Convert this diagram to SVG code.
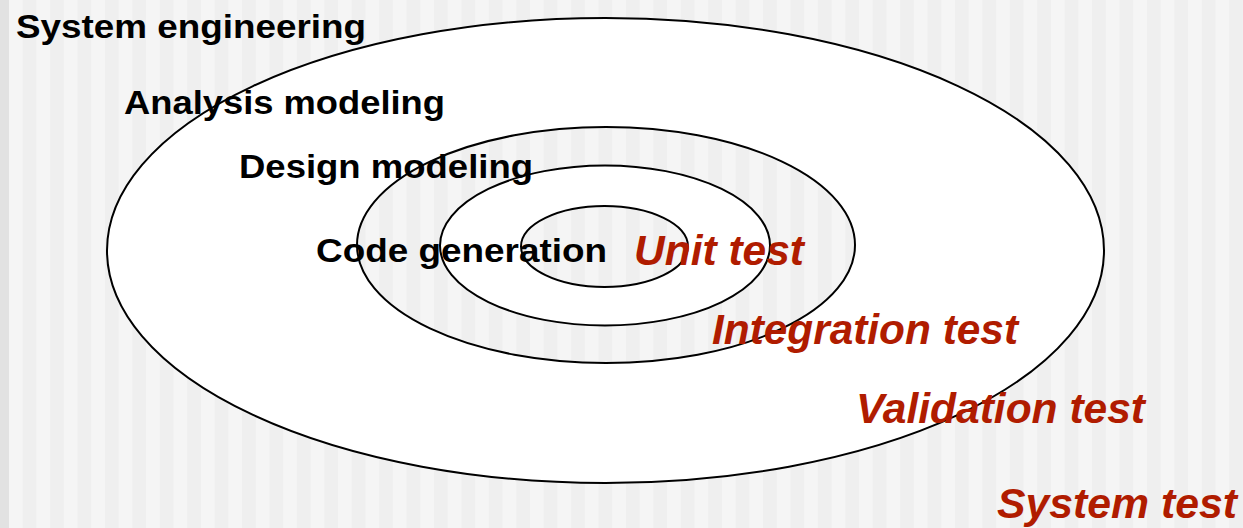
<svg xmlns="http://www.w3.org/2000/svg" width="1243" height="528" viewBox="0 0 1243 528">
  <defs>
    <pattern id="stripes" patternUnits="userSpaceOnUse" x="22.7" y="0" width="27.42" height="528">
      <rect x="0" y="0" width="27.42" height="528" fill="#f5f5f5"/>
      <rect x="0" y="0" width="13.71" height="528" fill="#efefef"/>
    </pattern>
    <style>
      .ring { stroke: #000; stroke-width: 2; }
      .white { fill: #ffffff; }
      .striped { fill: url(#stripes); }
      .lbl { font-family: "Liberation Sans", Arial, sans-serif; font-weight: bold; font-size: 34px; fill: #000; }
      .test { font-family: "Liberation Sans", Arial, sans-serif; font-weight: bold; font-style: italic; font-size: 42px; fill: #b01c00; }
    </style>
  </defs>
  <rect x="0" y="0" width="1243" height="528" fill="url(#stripes)"/>
  <rect x="0" y="0" width="9" height="528" fill="#e2e2e2"/>

  <g id="ellipses">
    <g id="system-engineering-ring"><ellipse class="ring white" cx="605.5" cy="250.5" rx="498.5" ry="232.5"/></g>
    <g id="analysis-ring"><ellipse class="ring striped" cx="606" cy="245" rx="249" ry="118"/></g>
    <g id="design-ring"><ellipse class="ring white" cx="605" cy="245.5" rx="165" ry="80"/></g>
    <g id="code-ring"><ellipse class="ring striped" cx="604.5" cy="246.5" rx="83.5" ry="40.5"/></g>
  </g>

  <g id="labels">
    <g id="lbl-system-engineering"><text class="lbl" x="16" y="38" textLength="350" lengthAdjust="spacingAndGlyphs">System engineering</text></g>
    <g id="lbl-analysis"><text class="lbl" x="124" y="114" textLength="321" lengthAdjust="spacingAndGlyphs">Analysis modeling</text></g>
    <g id="lbl-design"><text class="lbl" x="239" y="178" textLength="294" lengthAdjust="spacingAndGlyphs">Design modeling</text></g>
    <g id="lbl-code"><text class="lbl" x="316" y="262" textLength="291" lengthAdjust="spacingAndGlyphs">Code generation</text></g>
    <g id="lbl-unit"><text class="test" x="634" y="265" textLength="170" lengthAdjust="spacingAndGlyphs">Unit test</text></g>
    <g id="lbl-integration"><text class="test" x="712" y="344" textLength="306" lengthAdjust="spacingAndGlyphs">Integration test</text></g>
    <g id="lbl-validation"><text class="test" x="856" y="423" textLength="289" lengthAdjust="spacingAndGlyphs">Validation test</text></g>
    <g id="lbl-system-test"><text class="test" x="997" y="518" textLength="240" lengthAdjust="spacingAndGlyphs">System test</text></g>
  </g>
</svg>
